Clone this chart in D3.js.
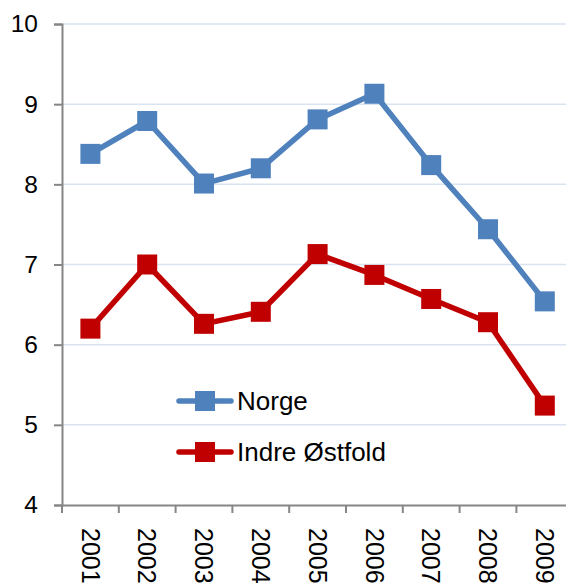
<!DOCTYPE html>
<html>
<head>
<meta charset="utf-8">
<script src="https://cdn.jsdelivr.net/npm/d3@7"></script>
<style>
  html, body { margin: 0; padding: 0; background: #fff; }
  svg { display: block; }
  text { font-family: "Liberation Sans", Arial, sans-serif; fill: #000; }
</style>
</head>
<body>
<script>
const years = ["2001","2002","2003","2004","2005","2006","2007","2008","2009"];
const norge = [8.38, 8.79, 8.01, 8.20, 8.81, 9.13, 8.24, 7.44, 6.54];
const indre = [6.20, 7.00, 6.26, 6.41, 7.13, 6.87, 6.57, 6.28, 5.24];
const yTicks = [4, 5, 6, 7, 8, 9, 10];
const seriesNames = ["Norge", "Indre Østfold"];
const seriesColors = ["#4f81bd", "#c00000"];

(function () {
const W = 566, H = 586;
const mLeft = 62, mTop = 24, mBottom = 505;
const band = 56.8;

const svg = d3.select("body").append("svg").attr("width", W).attr("height", H);

const x = d3.scaleBand().domain(years).range([mLeft, mLeft + band * years.length]).paddingInner(0).paddingOuter(0);
const y = d3.scaleLinear().domain([4, 10]).range([mBottom, mTop]);

// gridlines
svg.append("g").selectAll("line").data(yTicks.filter(d => d > 4)).join("line")
  .attr("x1", mLeft).attr("x2", W)
  .attr("y1", d => y(d)).attr("y2", d => y(d))
  .attr("stroke", "#d9e3f1").attr("stroke-width", 1.5);

// y axis
const yAxis = svg.append("g").attr("transform", `translate(${mLeft},0)`)
  .call(d3.axisLeft(y).tickValues(yTicks).tickSize(8).tickPadding(16).tickFormat(d3.format("d")));
yAxis.select(".domain").attr("stroke", "#868686").attr("stroke-width", 2);
yAxis.selectAll(".tick line").attr("stroke", "#868686").attr("stroke-width", 2);
yAxis.selectAll(".tick text").attr("font-size", 24.5).attr("font-family", '"Liberation Sans", Arial, sans-serif').attr("fill", "#000");

// x axis
const xAxis = svg.append("g").attr("transform", `translate(0,${mBottom})`)
  .call(d3.axisBottom(x).tickSize(0).tickSizeOuter(0));
xAxis.select(".domain").attr("stroke", "#868686").attr("stroke-width", 2);
xAxis.selectAll(".tick text").remove();
const boundaries = d3.range(years.length + 1).map(i => mLeft + band * i);
svg.append("g").selectAll("line").data(boundaries).join("line")
  .attr("x1", d => d).attr("x2", d => d)
  .attr("y1", mBottom).attr("y2", mBottom + 8)
  .attr("stroke", "#868686").attr("stroke-width", 2);
svg.append("g").selectAll("text").data(years).join("text")
  .attr("transform", d => `translate(${x(d) + x.bandwidth() / 2},528) rotate(90)`)
  .attr("dy", "0.35em")
  .attr("font-size", 25)
  .text(d => d);

// series
const allSeries = [norge, indre];
const line = d3.line().x((d, i) => x(years[i]) + x.bandwidth() / 2).y(d => y(d));
allSeries.forEach((vals, si) => {
  const g = svg.append("g");
  g.append("path").datum(vals).attr("d", line)
    .attr("fill", "none").attr("stroke", seriesColors[si]).attr("stroke-width", 5.5)
    .attr("stroke-linejoin", "round").attr("stroke-linecap", "round");
  g.selectAll("rect").data(vals).join("rect")
    .attr("x", (d, i) => x(years[i]) + x.bandwidth() / 2 - 10)
    .attr("y", d => y(d) - 10)
    .attr("width", 20).attr("height", 20)
    .attr("fill", seriesColors[si]);
});

// legend
const legendY = [401, 452];
seriesNames.forEach((name, i) => {
  const g = svg.append("g").attr("transform", `translate(0,${legendY[i]})`);
  g.append("line").attr("x1", 179).attr("x2", 231).attr("y1", 0).attr("y2", 0)
    .attr("stroke", seriesColors[i]).attr("stroke-width", 5.5).attr("stroke-linecap", "round");
  g.append("rect").attr("x", 195).attr("y", -10).attr("width", 20).attr("height", 20).attr("fill", seriesColors[i]);
  g.append("text").attr("x", 237).attr("y", 0).attr("dy", "0.35em").attr("font-size", 26).text(name);
});
})();
</script>
</body>
</html>
